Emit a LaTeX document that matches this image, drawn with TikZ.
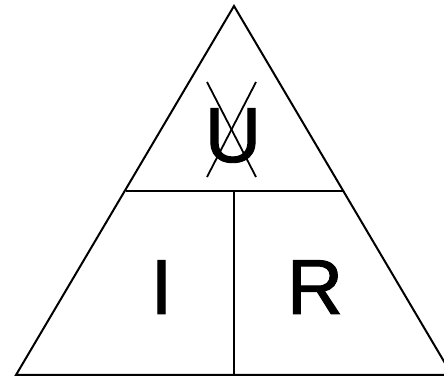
\documentclass[tikz,border=0pt]{standalone}
\usepackage{fontspec}
\newfontfamily\letterfont[FakeBold=1.2]{Liberation Sans}
\begin{document}
\begin{tikzpicture}[x=1pt,y=1pt,
  edge/.style={line width=2pt,line join=miter},
  cross/.style={line width=1.8pt},
  letter/.style={anchor=base,inner sep=0pt,font=\letterfont\fontsize{78}{78}\selectfont}]
\useasboundingbox (0,0) rectangle (444,377);
\begin{scope}
\clip (0,0) rectangle (444,377);
\coordinate (apex) at (234,371);
\coordinate (bl) at (16,2);
\coordinate (br) at (452,2);
\coordinate (ml) at (125.5,186);
\coordinate (mr) at (343,186);
\coordinate (mm) at (234,186);
\coordinate (bm) at (234,2);
\draw[edge] (apex) -- (bl) -- (br) -- cycle;
\draw[edge] (ml) -- (mr);
\draw[edge] (mm) -- (bm);
\node[letter] (U) at (233,215) {U};
\node[letter] (I) at (161.5,63) {I};
\node[letter] (R) at (315,63) {R};
\coordinate (c1) at (207,295);
\coordinate (c2) at (256,200);
\coordinate (c3) at (256,295);
\coordinate (c4) at (207,200);
\draw[cross] (c1) -- (c2);
\draw[cross] (c3) -- (c4);
\end{scope}
\end{tikzpicture}
\end{document}
